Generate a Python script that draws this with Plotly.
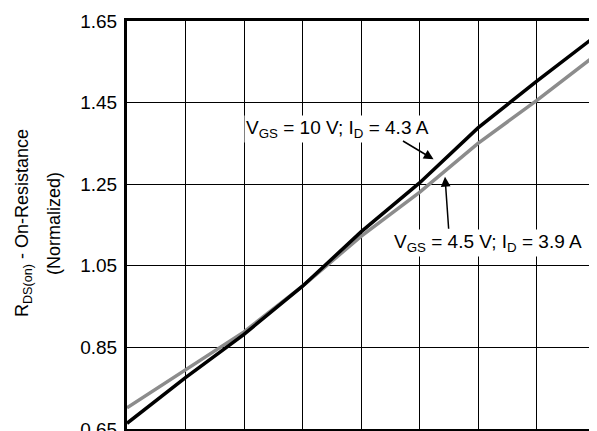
import plotly.graph_objects as go

temps = [-50, -25, 0, 25, 50, 75, 100, 125, 150]
r_vgs10 = [0.664, 0.776, 0.882, 1.0, 1.133, 1.253, 1.388, 1.502, 1.612]
r_vgs45 = [0.702, 0.794, 0.888, 1.0, 1.122, 1.230, 1.350, 1.455, 1.565]
y_ticks = [0.65, 0.85, 1.05, 1.25, 1.45, 1.65]
x_ticks = [-50, -25, 0, 25, 50, 75, 100, 125, 150]

FONT = "Liberation Sans, Arial, sans-serif"

fig = go.Figure()
fig.add_trace(go.Scatter(x=temps, y=r_vgs45, mode="lines",
                         line=dict(color="#8c8c8c", width=3.5), showlegend=False))
fig.add_trace(go.Scatter(x=temps, y=r_vgs10, mode="lines",
                         line=dict(color="black", width=3.5), showlegend=False))

# curve labels
fig.add_annotation(x=39.75, y=1.385, xref="x", yref="y",
                   text="V<sub>GS</sub> = 10 V; I<sub>D</sub> = 4.3 A",
                   showarrow=False, bgcolor="white",
                   font=dict(family=FONT, size=19, color="black"))
fig.add_annotation(x=104.3, y=1.105, xref="x", yref="y",
                   text="V<sub>GS</sub> = 4.5 V; I<sub>D</sub> = 3.9 A",
                   showarrow=False, bgcolor="white",
                   font=dict(family=FONT, size=19, color="black"))
# arrows
fig.add_annotation(x=81.0, y=1.311, ax=67.3, ay=1.358, xref="x", yref="y",
                   axref="x", ayref="y", text="", showarrow=True,
                   arrowhead=2, arrowsize=1.3, arrowwidth=1.5, arrowcolor="black")
fig.add_annotation(x=85.9, y=1.268, ax=87.5, ay=1.137, xref="x", yref="y",
                   axref="x", ayref="y", text="", showarrow=True,
                   arrowhead=2, arrowsize=1.3, arrowwidth=1.5, arrowcolor="black")

# y-axis title (two lines)
fig.add_annotation(x=-0.220, y=0.505, xref="paper", yref="paper",
                   text="R<sub>DS(on)</sub> - On-Resistance", textangle=-90,
                   showarrow=False, xanchor="center", yanchor="middle",
                   font=dict(family=FONT, size=18, color="black"))
fig.add_annotation(x=-0.156, y=0.505, xref="paper", yref="paper",
                   text="(Normalized)", textangle=-90,
                   showarrow=False, xanchor="center", yanchor="middle",
                   font=dict(family=FONT, size=18, color="black"))

# page body has an 8px default margin; size the figure so the plot lands in place
fig.update_layout(
    width=589, height=423,
    margin=dict(l=119, r=2, t=13, b=2),
    plot_bgcolor="white", paper_bgcolor="white",
    font=dict(family=FONT, size=19, color="black"),
    xaxis=dict(range=[-50, 150], tickvals=x_ticks, showticklabels=False,
               showgrid=True, gridcolor="black", gridwidth=1,
               showline=True, linecolor="black", linewidth=3, mirror=True,
               zeroline=False, ticks="", automargin=False),
    yaxis=dict(range=[0.6499, 1.65], tickvals=y_ticks,
               ticktext=[f"{v:.2f}" for v in y_ticks],
               showgrid=True, gridcolor="black", gridwidth=1,
               showline=True, linecolor="black", linewidth=3, mirror=True,
               zeroline=False, ticks="", ticklabelstandoff=3,
               ticklabeloverflow="allow",
               tickfont=dict(size=19), automargin=False),
)

fig.write_html("out.html")
